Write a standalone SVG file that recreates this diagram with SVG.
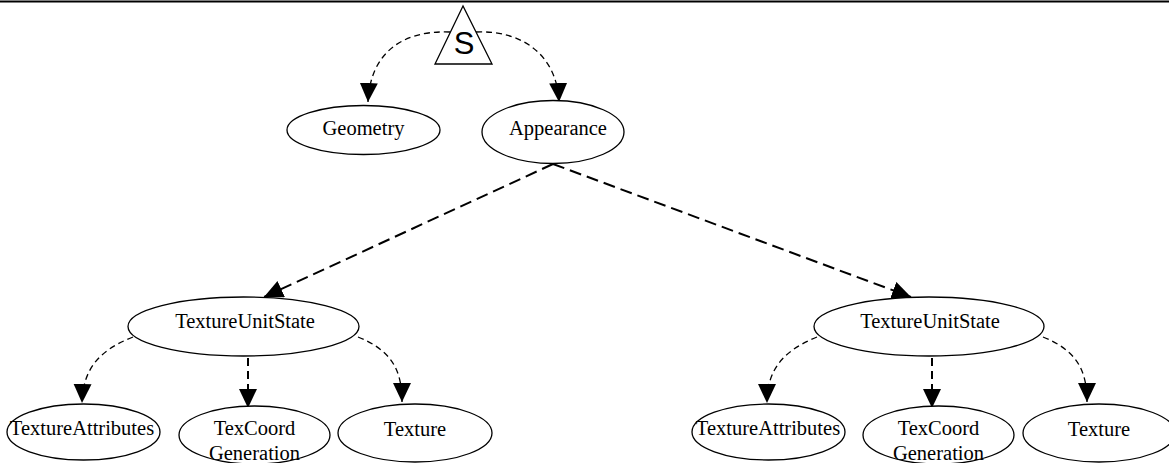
<svg xmlns="http://www.w3.org/2000/svg" width="1169" height="463" viewBox="0 0 1169 463">
<style>
.n ellipse{fill:#fff;stroke:#000;stroke-width:1.3}
.t{font-family:"Liberation Serif","Times New Roman",serif;font-size:20.5px;fill:#000;text-anchor:middle}
.c path{fill:none;stroke:#000}
.thin{stroke-width:1.3;stroke-dasharray:6 4}
.thick{stroke-width:2;stroke-dasharray:12 6}
.mid{stroke-width:2;stroke-dasharray:8 5}
</style>
<defs>
<marker id="ah" markerUnits="userSpaceOnUse" markerWidth="20" markerHeight="20" refX="19" refY="9" orient="auto" viewBox="0 0 20 20">
<path d="M0,0 L19,9 L0,18 z" fill="#000"/>
</marker>
</defs>
<rect x="0" y="0" width="1169" height="463" fill="#fff"/>
<line x1="0" y1="1.5" x2="1169" y2="1.5" stroke="#000" stroke-width="2"/>
<g class="c" id="connectors">
<path class="thin" d="M450,32 C400,30 370,55 368,102" marker-end="url(#ah)"/>
<path class="thin" d="M476,32 C522,30 557,55 559,102" marker-end="url(#ah)"/>
<path class="thick" d="M553,164 L264,297" marker-end="url(#ah)"/>
<path class="thick" d="M553,164 L911,297" marker-end="url(#ah)"/>
<path class="thin" d="M133,337 C100,350 83,368 82,403" marker-end="url(#ah)"/>
<path class="mid" d="M248,358 L248,408" marker-end="url(#ah)"/>
<path class="thin" d="M358,337 C390,350 402,368 402,402" marker-end="url(#ah)"/>
<path class="thin" d="M817,337 C785,350 767,368 767,403" marker-end="url(#ah)"/>
<path class="mid" d="M932,358 L932,408" marker-end="url(#ah)"/>
<path class="thin" d="M1043,337 C1075,350 1087,368 1087,402" marker-end="url(#ah)"/>
</g>
<g id="S">
<polygon points="463,6 435,64 492,64" fill="#fff" stroke="#000" stroke-width="1.3"/>
<text x="464" y="54" font-family="Liberation Sans, Arial, sans-serif" font-size="31" text-anchor="middle">S</text>
</g>
<g id="geometry" class="n">
<ellipse cx="363.5" cy="130" rx="76.5" ry="24.5"/>
<text class="t" x="363.5" y="135">Geometry</text>
</g>
<g id="appearance" class="n">
<ellipse cx="553" cy="132" rx="71" ry="31.5"/>
<text class="t" x="558" y="135">Appearance</text>
</g>
<g id="tus1" class="n">
<ellipse cx="243.5" cy="326.5" rx="115.5" ry="29.5"/>
<text class="t" x="245" y="328">TextureUnitState</text>
</g>
<g id="tus2" class="n">
<ellipse cx="929" cy="326.5" rx="115" ry="29.5"/>
<text class="t" x="930" y="328">TextureUnitState</text>
</g>
<g id="ta1" class="n">
<ellipse cx="83.5" cy="432" rx="76.5" ry="28"/>
<text class="t" x="82" y="435" font-size="21">TextureAttributes</text>
</g>
<g id="tcg1" class="n">
<ellipse cx="254.5" cy="435" rx="75.5" ry="29"/>
<text class="t" x="254.5" y="435">TexCoord</text>
<text class="t" x="254.5" y="460">Generation</text>
</g>
<g id="tex1" class="n">
<ellipse cx="415" cy="433" rx="77" ry="29"/>
<text class="t" x="415" y="436">Texture</text>
</g>
<g id="ta2" class="n">
<ellipse cx="768.5" cy="432" rx="76.5" ry="28"/>
<text class="t" x="768" y="435" font-size="21">TextureAttributes</text>
</g>
<g id="tcg2" class="n">
<ellipse cx="938.5" cy="435" rx="75.5" ry="29"/>
<text class="t" x="938.5" y="435">TexCoord</text>
<text class="t" x="938.5" y="460">Generation</text>
</g>
<g id="tex2" class="n">
<ellipse cx="1099" cy="433" rx="76" ry="29"/>
<text class="t" x="1099" y="436">Texture</text>
</g>
</svg>
